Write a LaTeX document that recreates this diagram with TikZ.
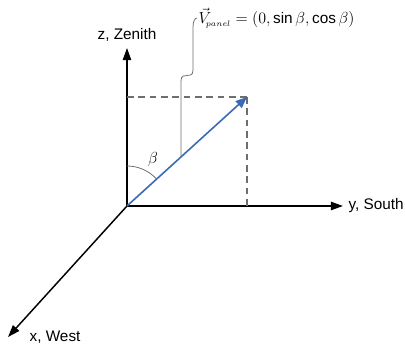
\documentclass[tikz,border=0pt]{standalone}
\usepackage{fontspec}
\setmainfont{Liberation Sans}
\usepackage{xcolor}
\usetikzlibrary{arrows.meta, positioning, calc}
\definecolor{axisdark}{HTML}{000000}
\definecolor{vecblue}{HTML}{3A6BB5}
\definecolor{guidegray}{HTML}{6E6E6E}
\tikzset{
  axis/.style={-{Triangle[length=3.2mm, width=2.2mm]}, line width=1.1pt, draw=axisdark},
  vecarrow/.style={-{Triangle[length=3mm, width=2.4mm]}, line width=1.2pt, draw=vecblue},
  proj/.style={dashed, dash pattern=on 5pt off 3.5pt, line width=0.9pt, draw=guidegray},
  leader/.style={draw=guidegray, line width=0.6pt},
  lbl/.style={font=\fontsize{11.5}{13}\selectfont, text=black, inner sep=1pt},
}

\begin{document}
\begin{tikzpicture}[x=0.75pt, y=0.75pt]
  \useasboundingbox (0,0) rectangle (405,349);

  % Axes
  \coordinate (O) at (127,143);
  \coordinate (ztip) at (127,301);
  \coordinate (ytip) at (343,143);
  \coordinate (xtip) at (8,12);
  \draw[axis] (O) -- (ztip);
  \draw[axis] (O) -- (ytip);
  \draw[axis] (O) -- (xtip);
  \node[lbl, above=4pt of ztip] (zlbl) {z, Zenith};
  \node[lbl, right=3pt of ytip] (ylbl) {y, South};
  \node[lbl, anchor=west] (xlbl) at (28,12) {x, West};

  % Panel vector and its projections
  \coordinate (vtip) at (247,252);
  \draw[proj] (O |- vtip) -- (vtip);
  \draw[proj] (vtip) -- (vtip |- O);
  \draw[vecarrow] (O) -- (vtip);

  % Angle to the zenith
  \draw[leader] ($(O)+(0,40)$) arc[start angle=90, end angle=42.5, radius=40];
  \node[lbl, font=\fontsize{13}{14}\selectfont] (beta) at (153,189) {$\beta$};

  % Label with leader line
  \node[lbl, anchor=west, font=\fontsize{11.5}{13}\selectfont] (vlbl) at (197,331)
    {$\vec{V}_{\!\scriptscriptstyle panel}=(0,\sin\beta,\cos\beta)$};
  \coordinate (vmid) at ($(O)!0.45!(vtip)$);
  \draw[leader] (vmid) -- (181,268)
    .. controls (181,279) and (193,268) .. (193,279)
    -- (193,322) .. controls (193,328) and (195,331) .. (vlbl.west);
\end{tikzpicture}
\end{document}
